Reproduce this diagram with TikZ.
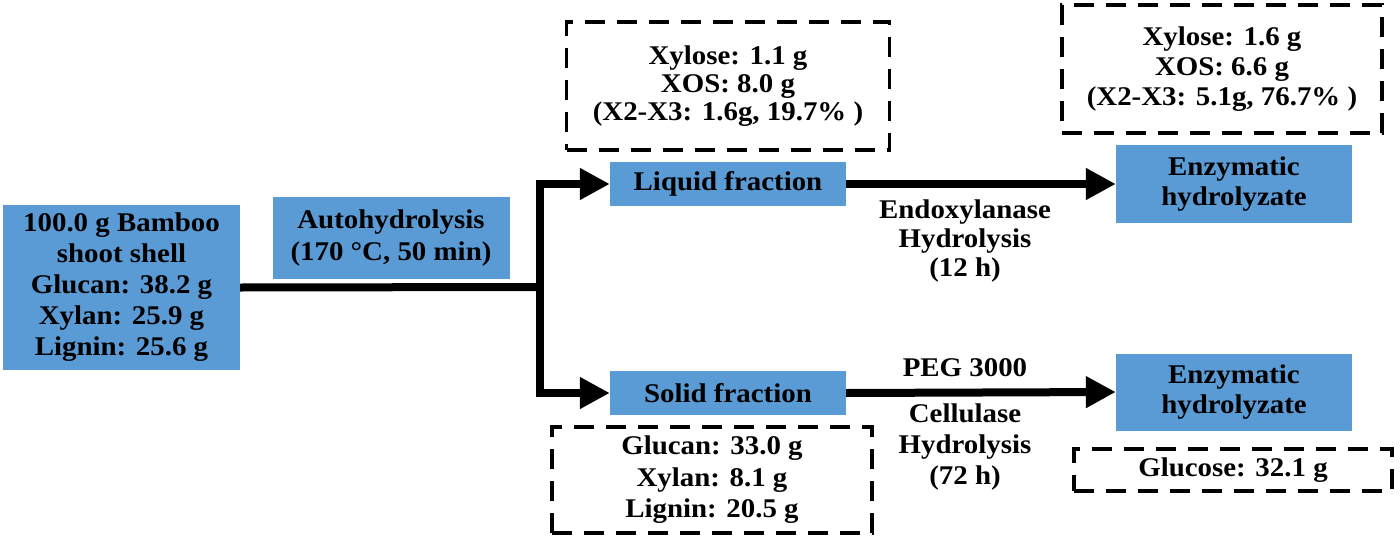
\documentclass[tikz,border=0pt]{standalone}
\usepackage{fontspec}
\setmainfont{Liberation Serif}[FakeStretch=1.07]
\usetikzlibrary{arrows.meta}
\definecolor{boxblue}{RGB}{91,155,213}

\begin{document}
\begin{tikzpicture}[x=1pt, y=-1pt, >={Triangle[length=30pt, width=30pt]},
  font=\fontsize{27}{30}\selectfont\bfseries,
  bluebox/.style={fill=boxblue, inner sep=0pt, align=center},
  dashbox/.style={draw, line width=3.5pt, dash pattern=on 20pt off 12pt, inner sep=0pt, align=center},
  flow/.style={line width=8pt}]
  \useasboundingbox (0,0) rectangle (1400,538);
  % Feedstock and pretreatment
  \node[bluebox, minimum width=237pt, minimum height=165pt, font=\fontsize{27}{31}\selectfont\bfseries]
    (shell) at (121.5,287.5) {100.0 g Bamboo\\shoot shell\\Glucan: 38.2 g\\Xylan: 25.9 g\\Lignin: 25.6 g};
  \node[bluebox, minimum width=237pt, minimum height=82pt, font=\fontsize{27}{32}\selectfont\bfseries]
    (auto) at (391,238) {Autohydrolysis\\(170 °C, 50 min)};
  % Fractions
  \node[bluebox, minimum width=236pt, minimum height=44pt] (liquid) at (728,184) {Liquid fraction};
  \node[bluebox, minimum width=236pt, minimum height=44pt] (solid) at (728,393) {Solid fraction};
  % Hydrolyzates
  \node[bluebox, minimum width=236pt, minimum height=78pt] (enzA) at (1234,184) {Enzymatic\\hydrolyzate};
  \node[bluebox, minimum width=236pt, minimum height=77pt] (enzB) at (1234,392) {Enzymatic\\hydrolyzate};
  % Compositions
  \node[dashbox, minimum width=323pt, minimum height=128pt, font=\fontsize{27}{28}\selectfont\bfseries]
    (liqcomp) at (728,86) {Xylose: 1.1 g\\XOS: 8.0 g\\(X2-X3: 1.6g, 19.7\% )};
  \node[dashbox, minimum width=320pt, minimum height=128pt]
    (enzAcomp) at (1222,69) {Xylose: 1.6 g\\XOS: 6.6 g\\(X2-X3: 5.1g, 76.7\% )};
  \node[dashbox, minimum width=320pt, minimum height=106pt, font=\fontsize{27}{31.5}\selectfont\bfseries]
    (solcomp) at (712,480) {Glucan: 33.0 g\\Xylan: 8.1 g\\Lignin: 20.5 g};
  \node[dashbox, minimum width=318pt, minimum height=42pt] (enzBcomp) at (1233,470) {Glucose: 32.1 g};
  % Step labels
  \node[align=center, font=\fontsize{27}{29}\selectfont\bfseries] (endo) at (965,241) {Endoxylanase\\Hydrolysis\\(12 h)};
  \node (peg) at (965,368) {PEG 3000};
  \node[align=center, font=\fontsize{27}{31}\selectfont\bfseries] (cell) at (965,447) {Cellulase\\Hydrolysis\\(72 h)};
  % Flow lines
  \coordinate (split) at (540,287);
  \draw[flow] (shell.east) -- (split);
  \draw[flow, ->] (split) |- (liquid.west);
  \draw[flow, ->] (split) |- (solid.west);
  \draw[flow, ->] (liquid.east) -- (enzA.west);
  \draw[flow, ->] (solid.east) -- (enzB.west);
\end{tikzpicture}
\end{document}
